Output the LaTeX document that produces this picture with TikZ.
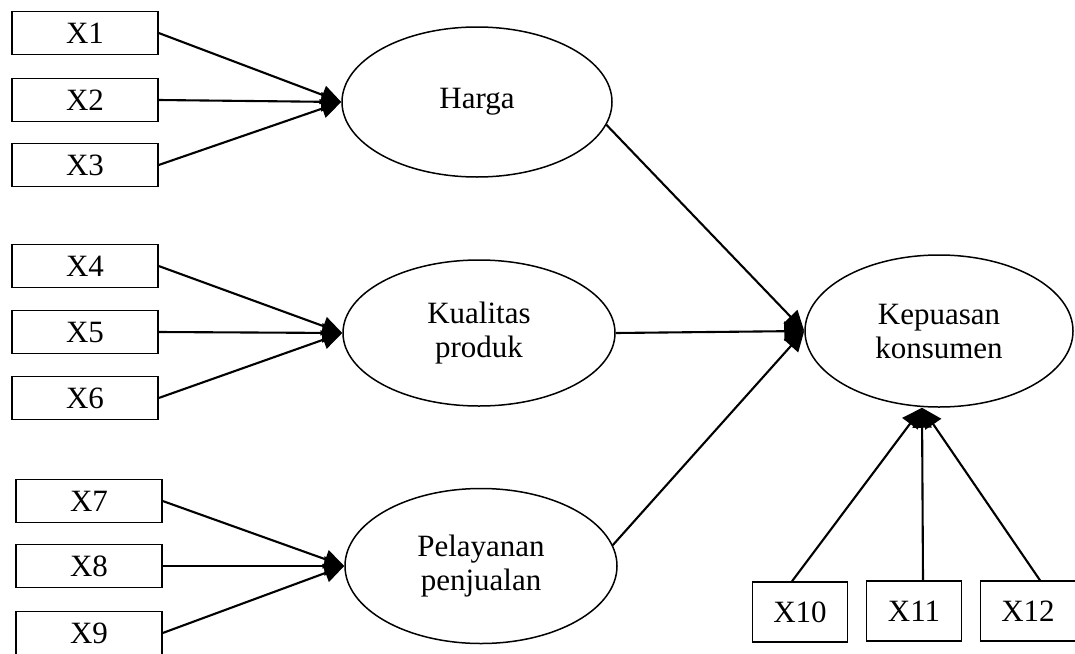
\documentclass[tikz,border=0pt]{standalone}
\usepackage{fontspec}
\setmainfont{Liberation Serif}
\usetikzlibrary{
	arrows.meta,
	shapes.geometric
}

\begin{document}
\begin{tikzpicture}[x=1pt, y=-1pt,
	kotak/.style={draw, rectangle, line width=1.4pt, minimum width=146pt, minimum height=43pt, inner sep=0pt, font=\fontsize{31}{33}\selectfont},
	kotakb/.style={kotak, minimum width=95pt, minimum height=60pt},
	elips/.style={draw, ellipse, line width=1.5pt, inner sep=0pt, align=center, font=\fontsize{31}{34}\selectfont},
	panah/.style={-{Triangle[length=20pt,width=19pt]}, line width=2.1pt}]
\useasboundingbox[fill=white] (0,0) rectangle (1075,653);

% indikator kiri
\node[kotak] (x1) at (85,33) {X1};
\node[kotak] (x2) at (85,100) {X2};
\node[kotak] (x3) at (85,165) {X3};
\node[kotak] (x4) at (85,266) {X4};
\node[kotak] (x5) at (85,332) {X5};
\node[kotak] (x6) at (85,398) {X6};
\node[kotak] (x7) at (89,501) {X7};
\node[kotak] (x8) at (89,566) {X8};
\node[kotak] (x9) at (89,633) {X9};

\node[elips, minimum width=270pt, minimum height=150pt] (harga) at (477,102) {Harga};
\node[elips, minimum width=272pt, minimum height=146pt] (kualitas) at (479,333) {Kualitas\\produk};
\node[elips, minimum width=272pt, minimum height=155pt] (pelayanan) at (481,566) {Pelayanan\\penjualan};
\node[elips, minimum width=268pt, minimum height=152pt] (kepuasan) at (939,331) {Kepuasan\\konsumen};

\node[kotakb] (x10) at (800,612) {X10};
\node[kotakb] (x11) at (914,611) {X11};
\node[kotakb] (x12) at (1028,611) {X12};

\path[panah] (x1.east) edge (harga.west)
	(x2.east) edge (harga.west)
	(x3.east) edge (harga.west)
	(x4.east) edge (kualitas.west)
	(x5.east) edge (kualitas.west)
	(x6.east) edge (kualitas.west)
	(x7.east) edge (pelayanan.west)
	(x8.east) edge (pelayanan.west)
	(x9.east) edge (pelayanan.west);
\path[panah] (harga.-10) edge (kepuasan.west)
	(kualitas.east) edge (kepuasan.west)
	(pelayanan.9) edge (kepuasan.west);
\path[panah] ([xshift=-8pt]x10.north) edge ([xshift=-17pt]kepuasan.south)
	([xshift=9pt]x11.north) edge ([xshift=-17pt]kepuasan.south)
	([xshift=12pt]x12.north) edge ([xshift=-17pt]kepuasan.south);
\end{tikzpicture}
\end{document}
